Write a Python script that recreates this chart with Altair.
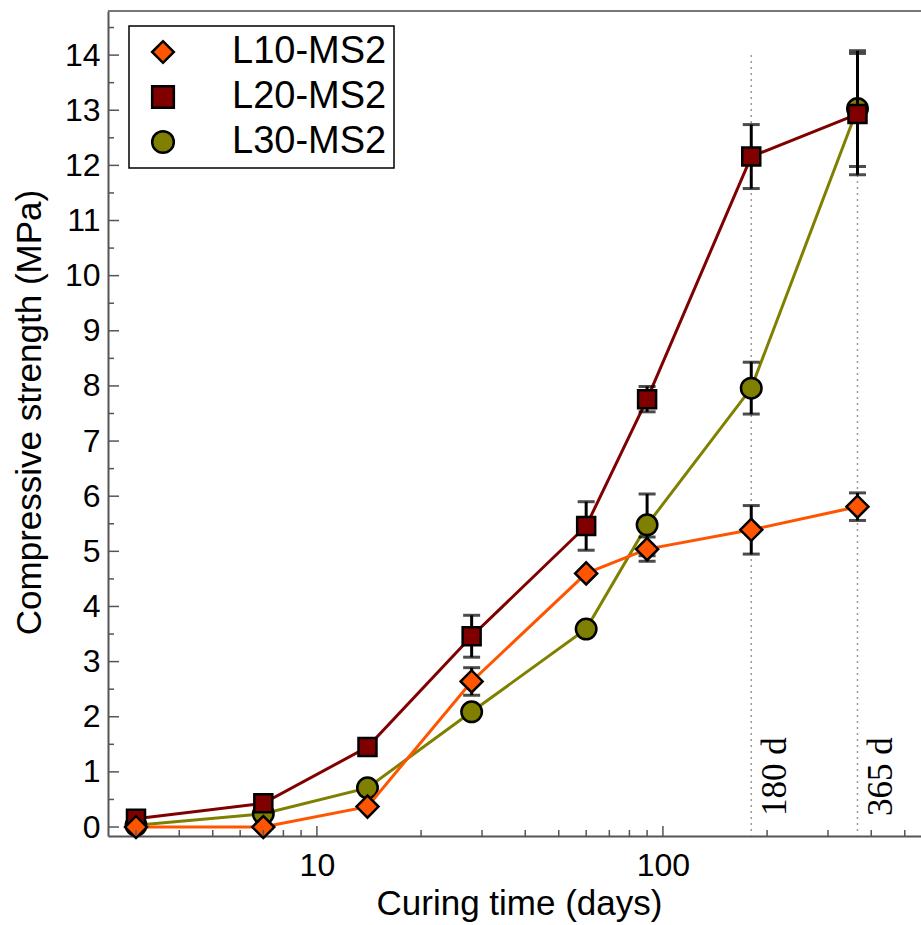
import altair as alt
import pandas as pd

# Curing ages (days) and mean compressive strength (MPa) with standard deviations
days = [3, 7, 14, 28, 60, 90, 180, 365]
series_names = ["L10-MS2", "L20-MS2", "L30-MS2"]
l10_mean = [0.0, 0.0, 0.37, 2.64, 4.60, 5.04, 5.39, 5.81]
l10_sd = [0, 0, 0, 0.25, 0, 0.22, 0.44, 0.25]
l20_mean = [0.15, 0.43, 1.45, 3.46, 5.46, 7.76, 12.16, 12.93]
l20_sd = [0, 0, 0, 0.38, 0.44, 0.23, 0.58, 1.10]
l30_mean = [0.03, 0.24, 0.71, 2.09, 3.59, 5.48, 7.96, 13.03]
l30_sd = [0, 0, 0, 0, 0, 0.56, 0.47, 1.05]

series_colors = ["#FF5500", "#800000", "#808000"]
series_outline = ["black", "black", "black"]
series_shapes = ["diamond", "square", "circle"]
series_sizes = [484, 324, 420]

# reference ages marked with dotted lines
ref_days = [180, 365]
ref_labels = ["180 d", "365 d"]
ref_top = [14, 14]
ref_label_y = [0.2, 0.2]

# axis tick positions
x_major = [10, 100]
x_minor = [3, 4, 5, 6, 7, 8, 9, 20, 30, 40, 50, 60, 70, 80, 90, 200, 300, 400, 500]
y_major = list(range(0, 15))
y_minor = [i + 0.5 for i in range(0, 15)]

W, H = 813, 825

rows = []
for name, means, sds in [("L10-MS2", l10_mean, l10_sd),
                         ("L20-MS2", l20_mean, l20_sd),
                         ("L30-MS2", l30_mean, l30_sd)]:
    for d, m, s in zip(days, means, sds):
        rows.append({"series": name, "day": d, "value": m, "sd": s,
                     "lo": m - s, "hi": m + s})
df = pd.DataFrame(rows)

x_scale = alt.Scale(type="log", domain=[2.49, 557], nice=False)
y_scale = alt.Scale(domain=[-0.163, 14.8], nice=False, zero=False)

x_axis = alt.Axis(values=x_major, format="d", title="Curing time (days)",
                  ticks=False, tickSize=0, labelPadding=14, labelFontSize=32,
                  labelFlush=False, grid=False, domainColor="#555", domainWidth=2,
                  titleFontSize=35, titleFontWeight="normal",
                  titleBaseline="alphabetic", titleAlign="center",
                  titleX=411, titleY=78)
y_axis = alt.Axis(values=y_major, format="d", title="Compressive strength (MPa)",
                  ticks=False, tickSize=0, labelPadding=8, labelFontSize=32,
                  grid=False, domainColor="#555", domainWidth=2,
                  titleFontSize=35, titleFontWeight="normal", titleAngle=270,
                  titleBaseline="alphabetic", titleAlign="center",
                  titleX=-68, titleY=401)

X = alt.X("day:Q", scale=x_scale, axis=x_axis)


def Y(field):
    return alt.Y(f"{field}:Q", scale=y_scale, axis=y_axis)


legend = alt.Legend(title=None, orient="none", legendX=21, legendY=15,
                    labelFontSize=38, labelFont="Liberation Sans", labelColor="black",
                    padding=7, rowPadding=7, symbolOffset=8, labelOffset=50,
                    symbolSize=470, symbolStrokeWidth=2.5,
                    strokeColor="black", fillColor="white")

fill_enc = alt.Fill("series:N", scale=alt.Scale(domain=series_names, range=series_colors), legend=legend)
stroke_enc = alt.Stroke("series:N", scale=alt.Scale(domain=series_names, range=series_outline), legend=legend)
shape_enc = alt.Shape("series:N", scale=alt.Scale(domain=series_names, range=series_shapes), legend=legend)

base = alt.Chart(df)

# dotted reference lines and their labels
ref_df = pd.DataFrame({"day": ref_days, "top": ref_top, "label": ref_labels, "ly": ref_label_y})
ref_lines = alt.Chart(ref_df).mark_rule(color="#999999", strokeWidth=1.5, strokeDash=[2, 4]).encode(
    x=X, y=Y("top"), y2=alt.value(H))
ref_text = alt.Chart(ref_df).mark_text(angle=270, align="left", baseline="middle",
                                       font="Liberation Serif", fontSize=35, dy=24,
                                       color="black").encode(x=X, y=Y("ly"), text="label:N")

layers = [ref_lines, ref_text]

# draw order: L30 first, L10 last
for name, color, size in reversed(list(zip(series_names, series_colors, series_sizes))):
    sub = base.transform_filter(alt.datum.series == name)
    line = sub.mark_line(color=color, strokeWidth=3).encode(x=X, y=Y("value"))
    err_src = sub.transform_filter(alt.datum.sd > 0)
    err = err_src.mark_rule(color="black", strokeWidth=3).encode(x=X, y=Y("lo"), y2="hi:Q")
    cap_lo = err_src.mark_tick(orient="horizontal", size=17, thickness=3, color="black").encode(x=X, y=Y("lo"))
    cap_hi = err_src.mark_tick(orient="horizontal", size=17, thickness=3, color="black").encode(x=X, y=Y("hi"))
    pts = sub.mark_point(filled=True, opacity=1, strokeWidth=2.5, size=size).encode(
        x=X, y=Y("value"), fill=fill_enc, stroke=stroke_enc, shape=shape_enc)
    layers += [line, err, cap_lo, cap_hi, pts]

# inward axis ticks
xt_major = alt.Chart(pd.DataFrame({"day": x_major})).mark_rule(color="#555", strokeWidth=1.5).encode(
    x=X, y=alt.value(H), y2=alt.value(H - 10))
xt_minor = alt.Chart(pd.DataFrame({"day": x_minor})).mark_rule(color="#555", strokeWidth=1.5).encode(
    x=X, y=alt.value(H), y2=alt.value(H - 6))
yt_major = alt.Chart(pd.DataFrame({"value": y_major})).mark_rule(color="#555", strokeWidth=1.5).encode(
    y=Y("value"), x=alt.value(0), x2=alt.value(11))
yt_minor = alt.Chart(pd.DataFrame({"value": y_minor})).mark_rule(color="#555", strokeWidth=1.5).encode(
    y=Y("value"), x=alt.value(0), x2=alt.value(6))
top_line = alt.Chart(pd.DataFrame({"a": [0]})).mark_rule(color="#777", strokeWidth=2).encode(
    x=alt.value(0), x2=alt.value(W), y=alt.value(0))

layers += [xt_major, xt_minor, yt_major, yt_minor, top_line]

chart = alt.layer(*layers).properties(
    width=W, height=H,
    padding={"left": 108, "top": 11, "right": 0, "bottom": 89},
    autosize=alt.AutoSizeParams(type="none"),
).configure(font="Liberation Sans").configure_view(stroke=None).configure_axis(
    labelColor="black", titleColor="black"
).configure_legend(strokeWidth=1.5)

chart.save("out.html", embed_options={"renderer": "svg", "actions": False})
